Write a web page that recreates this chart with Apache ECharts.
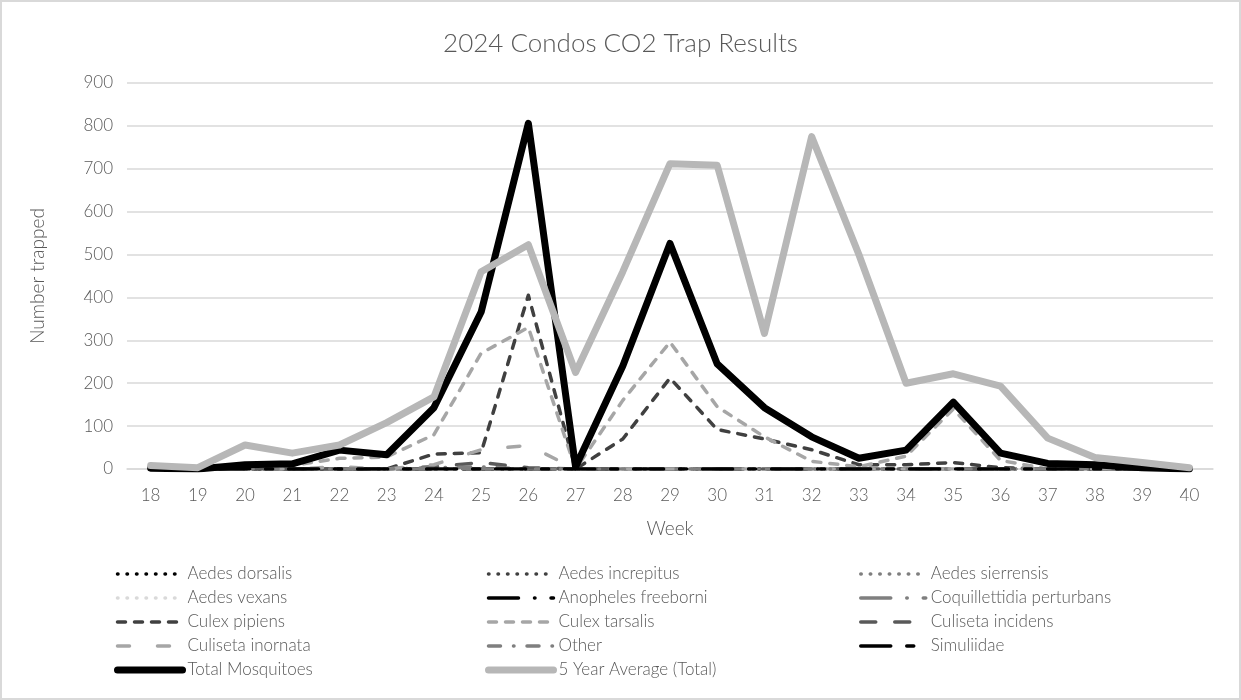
<!DOCTYPE html>
<html lang="en">
<head>
    <meta http-equiv="Content-Type" content="text/html; charset=utf-8"/>
    <title>2024 Condos CO2 Trap Results</title>
    <script type="text/javascript" src="https://cdn.jsdelivr.net/npm/echarts@6/dist/echarts.min.js"></script>
    <style>
        html, body { margin: 0; padding: 0; background: #fff; }
        #main { width: 1237px; height: 696px; border: 2px solid #d9d9d9; }
    </style>
</head>
<body>
<div id="main"></div>
<script type="text/javascript">
    // weeks on the x axis
    var weeks = ['18','19','20','21','22','23','24','25','26','27','28','29','30','31','32','33','34','35','36','37','38','39','40'];

    // species counts per week
    var aedesDorsalis      = [0,0,0,0,0,0,0,0,0,0,0,0,0,0,0,0,0,0,0,0,0,0,0];
    var aedesIncrepitus    = [0,0,0,0,0,0,0,0,0,0,0,0,0,0,0,0,0,0,0,0,0,0,0];
    var aedesSierrensis    = [0,0,0,0,0,0,0,0,0,0,0,0,0,0,0,0,0,0,0,0,0,0,0];
    var aedesVexans        = [0,0,0,0,0,0,0,0,0,0,0,0,0,0,0,0,0,0,0,0,0,0,0];
    var anophelesFreeborni = [0,0,0,0,0,0,0,0,0,0,0,0,0,0,0,0,0,0,0,0,0,0,0];
    var coquillettidia     = [0,0,0,0,0,0,0,0,0,0,0,0,0,0,0,0,0,0,0,0,0,0,0];
    var culexPipiens       = [0,0,0,0,0,0,35,38,405,0,70,212,92,70,45,10,10,15,3,0,0,0,0];
    var culexTarsalis      = [0,0,5,8,25,28,80,270,330,0,160,296,145,75,18,5,30,140,20,0,0,0,0];
    var culisetaIncidens   = [0,0,0,0,0,0,5,15,3,0,0,0,0,0,0,0,0,0,0,0,0,0,0];
    var culisetaInornata   = [0,0,0,0,5,0,10,45,55,0,0,0,0,0,0,0,0,0,0,0,0,0,0];
    var other              = [0,0,0,0,0,0,3,5,0,0,0,0,0,0,0,0,0,0,0,0,0,0,0];
    var simuliidae         = [0,0,0,0,0,0,0,0,0,0,0,0,0,0,0,0,0,0,0,0,0,0,0];
    var totalMosquitoes    = [2,0,10,12,44,33,143,366,806,5,240,526,245,143,75,25,44,156,37,13,10,3,0];
    var fiveYearAverage    = [8,3,56,37,56,108,168,460,523,225,460,712,708,316,775,500,200,222,193,72,27,15,3];

    var font = 'Lato, "Open Sans", "DejaVu Sans", sans-serif';
    var textColor = '#595959';

    // line look per series: colour, width, dash
    var styles = {
        'Aedes dorsalis':            ['#000000', 3.5, [0.5, 9]],
        'Aedes increpitus':          ['#404040', 3.5, [0.5, 9]],
        'Aedes sierrensis':          ['#7f7f7f', 3.5, [0.5, 9]],
        'Aedes vexans':              ['#d9d9d9', 3.5, [0.5, 9]],
        'Anopheles freeborni':       ['#000000', 3.5, [30, 16, 0.5, 16]],
        'Coquillettidia perturbans': ['#7f7f7f', 3.5, [30, 16, 0.5, 16]],
        'Culex pipiens':             ['#404040', 3.5, [8, 9]],
        'Culex tarsalis':            ['#a6a6a6', 3.5, [8, 9]],
        'Culiseta incidens':         ['#595959', 3.5, [15, 19]],
        'Culiseta inornata':         ['#a6a6a6', 3.5, [12, 28]],
        'Other':                     ['#7f7f7f', 3.5, [12, 13, 0.5, 13]],
        'Simuliidae':                ['#000000', 3.5, [30, 16, 7, 16]],
        'Total Mosquitoes':          ['#000000', 7, 'solid'],
        '5 Year Average (Total)':    ['#b7b7b7', 7, 'solid']
    };

    function lineStyle(name) {
        var s = styles[name];
        return {color: s[0], width: s[1], type: s[2], cap: 'round', join: 'round'};
    }

    function line(name, data) {
        return {
            name: name,
            type: 'line',
            data: data,
            symbol: 'none',
            silent: true,
            lineStyle: lineStyle(name),
            itemStyle: {color: styles[name][0]}
        };
    }

    function legendCol(left, names) {
        return {
            orient: 'vertical',
            left: left,
            top: 557,
            itemWidth: 65,
            itemHeight: 20,
            itemGap: 4,
            selectedMode: false,
            itemStyle: {opacity: 0},
            textStyle: {color: textColor, fontSize: 17, fontFamily: font, fontWeight: 300, lineHeight: 20},
            data: names.map(function (n) {
                return {name: n, lineStyle: lineStyle(n), itemStyle: {opacity: 0}};
            })
        };
    }

    var myChart = echarts.init(document.getElementById('main'));
    var option = {
        backgroundColor: '#fff',
        animation: false,
        title: {
            text: '2024 Condos CO2 Trap Results',
            left: 'center',
            top: 24,
            textStyle: {color: textColor, fontSize: 26, fontWeight: 300, fontFamily: font}
        },
        legend: [
            legendCol(107, ['Aedes dorsalis', 'Aedes vexans', 'Culex pipiens', 'Culiseta inornata', 'Total Mosquitoes']),
            legendCol(478, ['Aedes increpitus', 'Anopheles freeborni', 'Culex tarsalis', 'Other', '5 Year Average (Total)']),
            legendCol(852, ['Aedes sierrensis', 'Coquillettidia perturbans', 'Culiseta incidens', 'Simuliidae'])
        ],
        grid: {left: 125, right: 26, top: 81, bottom: 229},
        xAxis: {
            type: 'category',
            data: weeks,
            boundaryGap: true,
            name: 'Week',
            nameLocation: 'middle',
            nameGap: 50,
            nameTextStyle: {color: textColor, fontSize: 19, fontFamily: font, fontWeight: 300},
            axisLine: {lineStyle: {color: '#d9d9d9', width: 1.5}},
            axisTick: {show: false},
            axisLabel: {color: textColor, fontSize: 17, fontFamily: font, fontWeight: 300, margin: 18}
        },
        yAxis: {
            type: 'value',
            min: 0,
            max: 900,
            interval: 100,
            name: 'Number trapped',
            nameLocation: 'middle',
            nameGap: 80,
            nameTextStyle: {color: textColor, fontSize: 19, fontFamily: font, fontWeight: 300},
            axisLine: {show: false},
            axisTick: {show: false},
            axisLabel: {color: textColor, fontSize: 17, fontFamily: font, fontWeight: 300, margin: 14},
            splitLine: {lineStyle: {color: '#d9d9d9', width: 1.5}}
        },
        series: [
            line('Aedes dorsalis', aedesDorsalis),
            line('Aedes increpitus', aedesIncrepitus),
            line('Aedes sierrensis', aedesSierrensis),
            line('Aedes vexans', aedesVexans),
            line('Anopheles freeborni', anophelesFreeborni),
            line('Coquillettidia perturbans', coquillettidia),
            line('Culex pipiens', culexPipiens),
            line('Culex tarsalis', culexTarsalis),
            line('Culiseta incidens', culisetaIncidens),
            line('Culiseta inornata', culisetaInornata),
            line('Other', other),
            line('Simuliidae', simuliidae),
            line('Total Mosquitoes', totalMosquitoes),
            line('5 Year Average (Total)', fiveYearAverage)
        ]
    };
    myChart.setOption(option);
</script>
</body>
</html>
